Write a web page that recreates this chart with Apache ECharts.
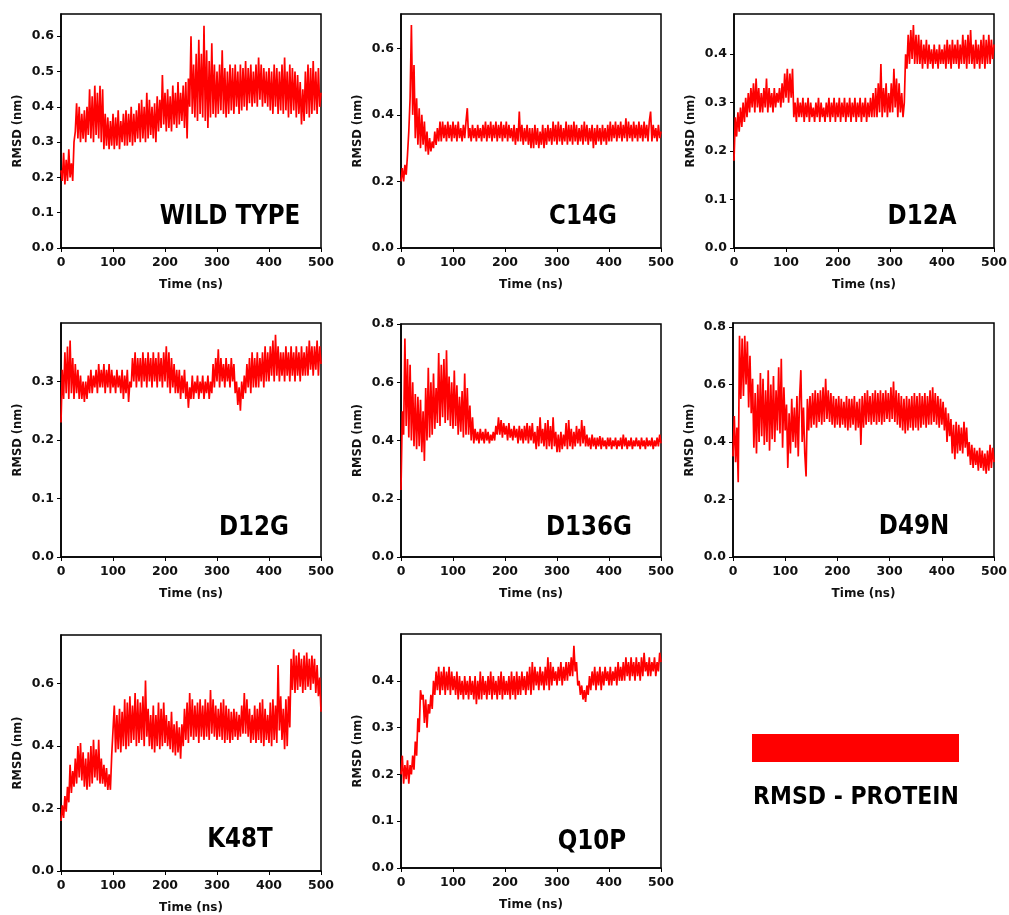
<!DOCTYPE html>
<html><head><meta charset="utf-8">
<script src="https://cdn.jsdelivr.net/npm/echarts@6/dist/echarts.min.js"></script>
<style>html,body{margin:0;padding:0;background:#fff}#c{width:1009px;height:915px}</style>
</head><body><div id="c"></div>
<script>
// ---------- DATA ----------
const panelNames = ['WILD TYPE','C14G','D12A','D12G','D136G','D49N','K48T','Q10P'];
const timeStep = 2.5; // ns between samples
const xTicks = [0,100,200,300,400,500];
const yTicksWT   = [0,0.1,0.2,0.3,0.4,0.5,0.6];
const yTicksC14G = [0,0.2,0.4,0.6];
const yTicksD12A = [0,0.1,0.2,0.3,0.4];
const yTicksD12G = [0,0.1,0.2,0.3];
const yTicksD136G= [0,0.2,0.4,0.6,0.8];
const yTicksD49N = [0,0.2,0.4,0.6,0.8];
const yTicksK48T = [0,0.2,0.4,0.6];
const yTicksQ10P = [0,0.1,0.2,0.3,0.4];
const yMax = [0.663,0.703,0.483,0.400,0.800,0.814,0.756,0.500];

const rmsdWT = [0.22,0.19,0.27,0.18,0.25,0.19,0.28,0.20,0.24,0.19,0.30,
0.33,0.41,0.31,0.40,0.30,0.38,0.31,0.39,0.30,0.40,
0.32,0.45,0.31,0.43,0.30,0.46,0.32,0.44,0.31,0.46,
0.30,0.45,0.28,0.38,0.29,0.37,0.28,0.36,0.29,0.38,
0.28,0.37,0.29,0.39,0.28,0.36,0.30,0.38,0.29,0.39,
0.29,0.38,0.30,0.40,0.29,0.38,0.30,0.39,0.31,0.41,
0.30,0.42,0.31,0.40,0.30,0.44,0.31,0.42,0.32,0.40,
0.31,0.41,0.30,0.43,0.33,0.42,0.34,0.49,0.35,0.44,
0.33,0.45,0.34,0.43,0.33,0.46,0.35,0.44,0.34,0.47,
0.35,0.44,0.36,0.46,0.34,0.47,0.31,0.48,0.40,0.60,
0.38,0.52,0.37,0.55,0.36,0.59,0.38,0.55,0.37,0.63,
0.36,0.56,0.34,0.53,0.37,0.58,0.38,0.52,0.37,0.50,
0.38,0.52,0.39,0.56,0.38,0.51,0.37,0.50,0.38,0.52,
0.39,0.51,0.38,0.52,0.40,0.50,0.38,0.52,0.39,0.51,
0.40,0.53,0.39,0.51,0.41,0.52,0.40,0.50,0.41,0.52,
0.40,0.54,0.42,0.52,0.40,0.51,0.41,0.50,0.40,0.51,
0.39,0.50,0.38,0.52,0.40,0.51,0.38,0.50,0.39,0.52,
0.38,0.54,0.39,0.50,0.37,0.52,0.38,0.51,0.39,0.50,
0.37,0.49,0.38,0.47,0.35,0.45,0.36,0.50,0.38,0.52,
0.37,0.51,0.38,0.53,0.39,0.50,0.38,0.51,0.40,0.44];

const rmsdC14G = [0.20,0.24,0.20,0.25,0.22,0.28,0.35,0.45,0.67,0.40,0.55,
0.33,0.45,0.31,0.42,0.30,0.40,0.31,0.38,0.29,0.35,
0.28,0.33,0.29,0.32,0.30,0.35,0.31,0.36,0.32,0.38,
0.32,0.38,0.33,0.37,0.32,0.38,0.33,0.37,0.32,0.38,
0.33,0.37,0.32,0.38,0.33,0.36,0.32,0.37,0.33,0.38,
0.42,0.33,0.36,0.32,0.37,0.33,0.36,0.32,0.37,0.33,
0.36,0.32,0.37,0.33,0.38,0.32,0.37,0.33,0.38,0.32,
0.37,0.33,0.38,0.32,0.37,0.33,0.38,0.32,0.37,0.33,
0.38,0.32,0.37,0.33,0.36,0.32,0.37,0.31,0.36,0.32,
0.41,0.32,0.37,0.31,0.36,0.32,0.37,0.31,0.36,0.30,
0.36,0.30,0.37,0.31,0.36,0.30,0.35,0.31,0.37,0.30,
0.36,0.31,0.37,0.32,0.36,0.31,0.38,0.32,0.37,0.31,
0.38,0.32,0.37,0.31,0.36,0.32,0.38,0.31,0.37,0.32,
0.37,0.31,0.38,0.32,0.37,0.31,0.36,0.32,0.37,0.31,
0.38,0.32,0.37,0.31,0.36,0.32,0.37,0.30,0.36,0.31,
0.37,0.32,0.36,0.31,0.37,0.32,0.36,0.31,0.37,0.32,
0.38,0.32,0.37,0.33,0.38,0.32,0.37,0.33,0.38,0.32,
0.37,0.33,0.39,0.32,0.38,0.33,0.37,0.32,0.38,0.33,
0.37,0.32,0.38,0.33,0.37,0.32,0.38,0.33,0.37,0.32,
0.38,0.41,0.32,0.37,0.33,0.36,0.32,0.37,0.33,0.35];

const rmsdD12A = [0.18,0.27,0.23,0.28,0.24,0.29,0.25,0.30,0.26,0.31,0.27,
0.32,0.28,0.33,0.29,0.34,0.28,0.35,0.29,0.33,0.28,
0.32,0.28,0.33,0.29,0.35,0.28,0.33,0.29,0.32,0.28,
0.33,0.29,0.32,0.30,0.33,0.29,0.34,0.30,0.36,0.31,
0.37,0.30,0.36,0.31,0.37,0.27,0.30,0.26,0.31,0.27,
0.30,0.27,0.31,0.26,0.30,0.27,0.31,0.26,0.30,0.27,
0.29,0.26,0.30,0.27,0.31,0.26,0.30,0.27,0.29,0.26,
0.30,0.27,0.31,0.26,0.30,0.27,0.31,0.26,0.30,0.27,
0.31,0.26,0.30,0.27,0.31,0.26,0.30,0.27,0.31,0.26,
0.30,0.27,0.31,0.26,0.30,0.27,0.31,0.26,0.30,0.27,
0.31,0.26,0.30,0.27,0.31,0.27,0.32,0.27,0.33,0.27,
0.34,0.28,0.38,0.27,0.33,0.28,0.34,0.27,0.32,0.28,
0.34,0.28,0.37,0.29,0.35,0.27,0.34,0.28,0.32,0.27,
0.30,0.40,0.37,0.44,0.38,0.45,0.39,0.46,0.38,0.44,
0.38,0.44,0.38,0.43,0.37,0.42,0.38,0.43,0.37,0.42,
0.38,0.41,0.37,0.42,0.38,0.41,0.37,0.42,0.38,0.41,
0.38,0.42,0.37,0.43,0.38,0.42,0.37,0.43,0.38,0.42,
0.38,0.43,0.37,0.42,0.38,0.44,0.38,0.43,0.37,0.44,
0.38,0.45,0.38,0.42,0.37,0.43,0.38,0.42,0.37,0.43,
0.38,0.44,0.37,0.43,0.38,0.44,0.38,0.43,0.39,0.42];

const rmsdD12G = [0.23,0.32,0.27,0.35,0.28,0.36,0.27,0.37,0.28,0.34,0.27,
0.33,0.28,0.32,0.27,0.31,0.27,0.30,0.265,0.30,0.27,
0.31,0.28,0.32,0.28,0.31,0.29,0.32,0.28,0.33,0.29,
0.32,0.29,0.33,0.28,0.32,0.29,0.33,0.28,0.32,0.29,
0.31,0.28,0.32,0.29,0.31,0.28,0.32,0.27,0.31,0.28,
0.32,0.265,0.30,0.29,0.34,0.30,0.35,0.29,0.34,0.30,
0.34,0.29,0.35,0.30,0.34,0.29,0.35,0.30,0.34,0.29,
0.35,0.30,0.34,0.29,0.35,0.30,0.34,0.29,0.35,0.30,
0.36,0.29,0.35,0.28,0.34,0.29,0.33,0.28,0.32,0.28,
0.32,0.27,0.31,0.28,0.32,0.27,0.30,0.255,0.29,0.27,
0.31,0.27,0.30,0.28,0.31,0.27,0.30,0.28,0.31,0.27,
0.30,0.28,0.31,0.27,0.30,0.28,0.33,0.29,0.34,0.30,
0.355,0.29,0.34,0.30,0.33,0.29,0.34,0.30,0.33,0.29,
0.34,0.30,0.33,0.28,0.30,0.26,0.29,0.25,0.30,0.27,
0.31,0.28,0.33,0.29,0.34,0.28,0.35,0.29,0.34,0.29,
0.35,0.29,0.34,0.30,0.35,0.29,0.36,0.30,0.35,0.30,
0.36,0.31,0.37,0.30,0.38,0.31,0.36,0.30,0.35,0.31,
0.35,0.30,0.36,0.31,0.35,0.30,0.36,0.31,0.35,0.30,
0.36,0.31,0.35,0.30,0.36,0.31,0.35,0.31,0.36,0.31,
0.37,0.32,0.36,0.31,0.36,0.32,0.37,0.31,0.36,0.33];

const rmsdD136G = [0.23,0.50,0.42,0.75,0.45,0.68,0.41,0.66,0.40,0.60,0.38,
0.56,0.37,0.55,0.38,0.54,0.36,0.50,0.33,0.58,0.40,
0.65,0.41,0.60,0.42,0.63,0.44,0.58,0.46,0.70,0.45,
0.66,0.48,0.68,0.46,0.71,0.47,0.62,0.45,0.60,0.44,
0.64,0.45,0.59,0.42,0.55,0.43,0.57,0.41,0.63,0.42,
0.58,0.42,0.52,0.40,0.48,0.39,0.44,0.40,0.43,0.39,
0.44,0.40,0.43,0.39,0.44,0.40,0.43,0.39,0.42,0.40,
0.43,0.40,0.45,0.42,0.48,0.42,0.47,0.41,0.46,0.42,
0.45,0.40,0.46,0.41,0.44,0.40,0.45,0.41,0.44,0.39,
0.45,0.40,0.44,0.39,0.45,0.40,0.46,0.39,0.45,0.40,
0.46,0.39,0.43,0.37,0.45,0.38,0.48,0.39,0.44,0.38,
0.46,0.37,0.47,0.38,0.45,0.37,0.48,0.38,0.43,0.36,
0.42,0.36,0.43,0.37,0.42,0.38,0.46,0.37,0.47,0.38,
0.44,0.37,0.43,0.38,0.45,0.39,0.44,0.38,0.47,0.39,
0.45,0.38,0.42,0.38,0.41,0.37,0.42,0.38,0.41,0.37,
0.41,0.38,0.415,0.37,0.41,0.38,0.40,0.37,0.41,0.38,
0.41,0.37,0.40,0.38,0.41,0.37,0.40,0.38,0.41,0.37,
0.42,0.38,0.41,0.37,0.40,0.38,0.41,0.37,0.40,0.38,
0.41,0.38,0.40,0.37,0.41,0.38,0.40,0.37,0.41,0.38,
0.40,0.38,0.41,0.37,0.40,0.38,0.41,0.38,0.42,0.39];

const rmsdD49N = [0.35,0.49,0.33,0.45,0.26,0.77,0.55,0.76,0.56,0.77,0.60,
0.75,0.52,0.70,0.50,0.62,0.38,0.57,0.36,0.60,0.40,
0.64,0.42,0.62,0.39,0.58,0.40,0.65,0.37,0.60,0.41,
0.63,0.40,0.58,0.44,0.66,0.43,0.69,0.38,0.59,0.44,
0.53,0.31,0.50,0.36,0.55,0.40,0.52,0.38,0.56,0.35,
0.55,0.65,0.40,0.52,0.36,0.28,0.55,0.44,0.56,0.45,
0.57,0.46,0.58,0.45,0.57,0.47,0.58,0.46,0.59,0.47,
0.62,0.48,0.58,0.47,0.57,0.46,0.56,0.45,0.55,0.46,
0.56,0.45,0.55,0.46,0.54,0.45,0.56,0.44,0.55,0.45,
0.55,0.46,0.56,0.44,0.54,0.45,0.55,0.39,0.56,0.45,
0.57,0.46,0.58,0.47,0.56,0.46,0.57,0.47,0.58,0.46,
0.57,0.47,0.58,0.46,0.57,0.47,0.58,0.48,0.57,0.47,
0.59,0.48,0.61,0.47,0.58,0.46,0.57,0.45,0.56,0.44,
0.55,0.43,0.56,0.44,0.55,0.45,0.56,0.44,0.57,0.45,
0.56,0.44,0.57,0.45,0.56,0.46,0.57,0.45,0.56,0.46,
0.58,0.46,0.59,0.47,0.57,0.46,0.56,0.45,0.55,0.46,
0.54,0.44,0.52,0.40,0.50,0.42,0.48,0.36,0.46,0.34,
0.47,0.36,0.46,0.37,0.45,0.36,0.47,0.38,0.45,0.35,
0.40,0.32,0.39,0.31,0.38,0.32,0.37,0.30,0.38,0.31,
0.37,0.30,0.36,0.29,0.37,0.30,0.39,0.31,0.38,0.33];

const rmsdK48T = [0.16,0.21,0.17,0.24,0.19,0.27,0.22,0.34,0.25,0.32,0.27,
0.36,0.28,0.40,0.30,0.41,0.29,0.38,0.27,0.36,0.26,
0.38,0.27,0.40,0.28,0.42,0.30,0.39,0.29,0.42,0.28,
0.36,0.28,0.34,0.27,0.33,0.26,0.31,0.26,0.37,0.45,
0.53,0.38,0.50,0.39,0.52,0.38,0.51,0.40,0.55,0.39,
0.54,0.40,0.56,0.41,0.53,0.42,0.57,0.40,0.55,0.41,
0.54,0.42,0.56,0.40,0.61,0.43,0.52,0.40,0.50,0.39,
0.53,0.38,0.50,0.40,0.54,0.39,0.52,0.40,0.54,0.41,
0.50,0.40,0.48,0.39,0.51,0.38,0.47,0.37,0.48,0.38,
0.46,0.36,0.47,0.40,0.52,0.42,0.54,0.41,0.57,0.43,
0.55,0.42,0.53,0.43,0.54,0.41,0.55,0.43,0.53,0.42,
0.55,0.43,0.54,0.42,0.58,0.44,0.55,0.43,0.53,0.42,
0.52,0.43,0.54,0.42,0.55,0.41,0.53,0.42,0.52,0.41,
0.51,0.42,0.52,0.43,0.51,0.42,0.50,0.43,0.53,0.44,
0.57,0.44,0.55,0.43,0.52,0.41,0.50,0.42,0.53,0.41,
0.52,0.42,0.54,0.41,0.55,0.40,0.52,0.42,0.50,0.41,
0.54,0.40,0.55,0.42,0.53,0.41,0.66,0.45,0.56,0.42,
0.52,0.39,0.55,0.40,0.56,0.46,0.68,0.58,0.71,0.57,
0.69,0.58,0.70,0.59,0.68,0.57,0.69,0.58,0.70,0.59,
0.68,0.58,0.69,0.60,0.68,0.57,0.66,0.56,0.62,0.51];

const rmsdQ10P = [0.20,0.24,0.18,0.22,0.19,0.23,0.18,0.22,0.20,0.24,0.21,
0.27,0.24,0.32,0.29,0.38,0.36,0.37,0.31,0.36,0.30,
0.35,0.33,0.37,0.34,0.40,0.37,0.42,0.38,0.43,0.37,
0.42,0.38,0.43,0.37,0.42,0.38,0.43,0.37,0.42,0.38,
0.41,0.37,0.42,0.36,0.41,0.37,0.40,0.36,0.41,0.37,
0.40,0.36,0.41,0.37,0.40,0.36,0.41,0.35,0.40,0.36,
0.42,0.36,0.41,0.37,0.40,0.36,0.41,0.37,0.42,0.36,
0.41,0.37,0.40,0.36,0.41,0.37,0.42,0.36,0.41,0.37,
0.40,0.37,0.41,0.36,0.42,0.37,0.41,0.36,0.42,0.37,
0.41,0.37,0.42,0.38,0.41,0.37,0.42,0.38,0.43,0.37,
0.44,0.38,0.43,0.39,0.42,0.38,0.43,0.39,0.42,0.38,
0.43,0.39,0.45,0.38,0.44,0.39,0.43,0.40,0.42,0.39,
0.43,0.40,0.44,0.39,0.43,0.40,0.44,0.40,0.44,0.41,
0.45,0.41,0.475,0.42,0.44,0.39,0.40,0.37,0.39,0.36,
0.38,0.355,0.39,0.37,0.41,0.38,0.42,0.39,0.43,0.38,
0.42,0.39,0.43,0.38,0.42,0.39,0.43,0.40,0.42,0.39,
0.43,0.39,0.42,0.40,0.43,0.39,0.44,0.40,0.43,0.40,
0.44,0.40,0.45,0.41,0.44,0.40,0.45,0.41,0.44,0.40,
0.45,0.41,0.44,0.40,0.45,0.41,0.46,0.42,0.44,0.41,
0.45,0.41,0.44,0.42,0.45,0.41,0.44,0.42,0.46,0.44];

const legendLabel = 'RMSD - PROTEIN';

// ---------- LAYOUT / STYLE ----------
const series = [rmsdWT, rmsdC14G, rmsdD12A, rmsdD12G, rmsdD136G, rmsdD49N, rmsdK48T, rmsdQ10P];
const yTicks = [yTicksWT, yTicksC14G, yTicksD12A, yTicksD12G, yTicksD136G, yTicksD49N, yTicksK48T, yTicksQ10P];
const boxes = [
  [61,14,260,234],[401,14,260,234],[734,14,260,234],
  [61,323,260,234],[401,324,260,233],[733,323,261,234],
  [61,635,260,236],[401,634,260,234]
];
const namePos = [[230,217],[583,217],[922,217],[254,528],[589,528],[914,527],[240,840],[592,842]];
const FONT = 'DejaVu Sans';
const RED = '#ff0000';

const grids = [], xAxes = [], yAxes = [], ser = [], graphics = [];
boxes.forEach((b, i) => {
  grids.push({left:b[0], top:b[1], width:b[2], height:b[3], show:true, borderColor:'#000', borderWidth:1.5,
              backgroundColor:'transparent', containLabel:false, outerBoundsMode:'none'});
  xAxes.push({gridIndex:i, type:'value', min:0, max:500,
    axisLine:{show:true, onZero:false, lineStyle:{color:'#000', width:1.5}},
    axisTick:{show:true, length:4, customValues:xTicks, lineStyle:{color:'#000', width:1}},
    axisLabel:{customValues:xTicks, fontFamily:FONT, fontWeight:'bold', fontSize:12.5, color:'#111', margin:8},
    splitLine:{show:false},
    name:'Time (ns)', nameLocation:'middle', nameGap:31,
    nameTextStyle:{fontFamily:FONT, fontWeight:'bold', fontSize:12, color:'#111'}});
  const yt = yTicks[i];
  yAxes.push({gridIndex:i, type:'value', min:0, max:yMax[i],
    axisLine:{show:true, onZero:false, lineStyle:{color:'#000', width:1.5}},
    axisTick:{show:true, length:4, customValues:yt, lineStyle:{color:'#000', width:1}},
    axisLabel:{customValues:yt, fontFamily:FONT, fontWeight:'bold', fontSize:12.5, color:'#111', margin:7,
               formatter:v => v.toFixed(1)},
    splitLine:{show:false},
    name:'RMSD (nm)', nameLocation:'middle', nameGap:37, nameRotate:90,
    nameTextStyle:{fontFamily:FONT, fontWeight:'bold', fontSize:11.5, color:'#111'}});
  ser.push({type:'line', xAxisIndex:i, yAxisIndex:i, showSymbol:false, symbol:'none',
    lineStyle:{color:RED, width:1.7, join:'miter', miterLimit:3}, itemStyle:{color:RED},
    data: series[i].map((v, k) => [k*timeStep, v]), animation:false, silent:true});
  graphics.push({type:'text', x:namePos[i][0], y:namePos[i][1], scaleY:1.15,
    style:{text:panelNames[i], fontFamily:FONT, fontWeight:'bold', fontSize:23, fill:'#000',
           textAlign:'center', textVerticalAlign:'middle'}});
});
graphics.push({type:'rect', shape:{x:752, y:734, width:207, height:28}, style:{fill:RED}});
graphics.push({type:'text', x:856, y:797, scaleY:1.15,
  style:{text:legendLabel, fontFamily:FONT, fontWeight:'bold', fontSize:22, fill:'#000',
         textAlign:'center', textVerticalAlign:'middle'}});

const chart = echarts.init(document.getElementById('c'), null, {renderer:'canvas'});
chart.setOption({
  animation:false, backgroundColor:'#fff',
  grid:grids, xAxis:xAxes, yAxis:yAxes, series:ser, graphic:graphics
});
</script></body></html>
